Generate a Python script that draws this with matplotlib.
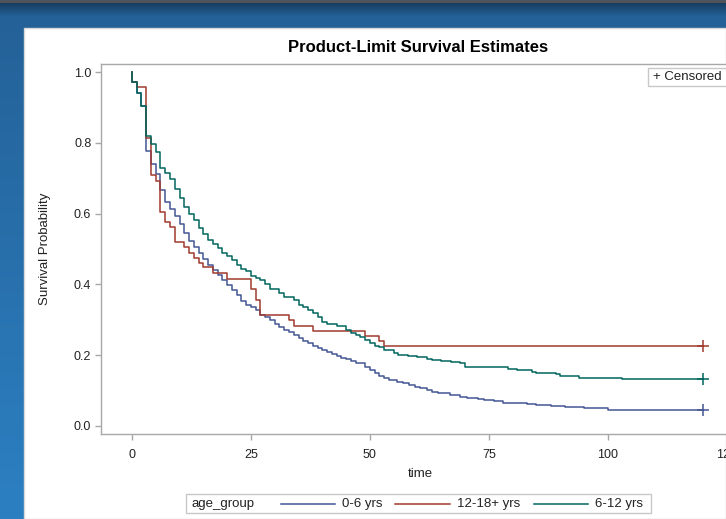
import numpy as np
import matplotlib
matplotlib.use('Agg')
import matplotlib.pyplot as plt
from matplotlib.lines import Line2D
from matplotlib.patches import Rectangle

plt.rcParams['font.family'] = ['Liberation Sans', 'DejaVu Sans']

# ---------------- data ----------------
group_labels = ['0-6 yrs', '12-18+ yrs', '6-12 yrs']
legend_title = 'age_group'
colors = ['#445694', '#A23A2E', '#01665E']

# event times and survival after each step
t_06 = [0, 1, 2, 3, 4, 5, 6, 7, 8, 9, 10, 11, 12, 13, 14, 15, 16, 17, 18, 19,
        20, 21, 22, 23, 24, 25, 26, 27, 28, 29, 30, 31, 32, 33, 34, 35, 36, 37,
        38, 39, 40, 41, 42, 43, 44, 45, 46, 47, 49, 50, 51, 52, 53, 54, 55.6,
        57, 58.3, 59.5, 60.5, 62, 63, 64.4, 66.8, 69, 70.3, 72.8, 74, 76, 78,
        78.7, 83, 85, 88, 91, 95, 100, 106]
s_06 = [0.971, 0.940, 0.905, 0.777, 0.740, 0.711, 0.667, 0.634, 0.612, 0.593,
        0.570, 0.544, 0.523, 0.505, 0.488, 0.471, 0.455, 0.441, 0.427, 0.412,
        0.398, 0.384, 0.370, 0.354, 0.343, 0.335, 0.328, 0.314, 0.307, 0.299,
        0.288, 0.279, 0.271, 0.266, 0.257, 0.248, 0.240, 0.234, 0.227, 0.221,
        0.215, 0.208, 0.203, 0.198, 0.191, 0.188, 0.184, 0.179, 0.168, 0.158,
        0.151, 0.141, 0.135, 0.130, 0.125, 0.121, 0.116, 0.111, 0.106, 0.102,
        0.097, 0.092, 0.088, 0.083, 0.080, 0.076, 0.073, 0.070, 0.066, 0.064,
        0.061, 0.058, 0.056, 0.053, 0.050, 0.046, 0.044]

t_1218 = [0, 1, 3, 4, 5, 6, 7, 8, 9, 11, 12, 13, 14, 15, 17, 20, 25, 26, 27,
          33, 34, 38, 49, 52, 53]
s_1218 = [0.971, 0.957, 0.813, 0.709, 0.693, 0.605, 0.575, 0.563, 0.519,
          0.505, 0.488, 0.474, 0.460, 0.448, 0.431, 0.416, 0.386, 0.357, 0.314,
          0.299, 0.282, 0.269, 0.255, 0.240, 0.225]

t_612 = [0, 1, 2, 3, 4, 5, 6, 7, 8, 9, 10, 11, 12, 13, 14, 15, 16, 17, 18, 19,
         20, 21, 22, 23, 24, 25, 26, 27, 28, 29, 31, 32, 34, 35, 36, 37, 38, 39,
         40, 41, 43, 45, 46, 47, 48, 49, 50, 51, 52, 53, 55, 56, 58, 60, 62,
         63, 65, 67, 69, 70, 79, 81, 84, 85, 89, 90, 91, 94, 103]
s_612 = [0.971, 0.940, 0.905, 0.819, 0.796, 0.773, 0.730, 0.714, 0.698, 0.669,
         0.645, 0.620, 0.599, 0.581, 0.559, 0.543, 0.526, 0.513, 0.502, 0.490,
         0.481, 0.469, 0.455, 0.444, 0.438, 0.425, 0.418, 0.412, 0.400, 0.386,
         0.375, 0.365, 0.356, 0.342, 0.337, 0.328, 0.318, 0.309, 0.295, 0.288,
         0.282, 0.271, 0.264, 0.257, 0.251, 0.243, 0.234, 0.226, 0.222, 0.215,
         0.207, 0.201, 0.198, 0.194, 0.189, 0.186, 0.184, 0.182, 0.177, 0.168,
         0.161, 0.158, 0.153, 0.149, 0.146, 0.142, 0.140, 0.137, 0.134]

censor_time = 120
x_ticks = [0, 25, 50, 75, 100, 125]
y_ticks = [0.0, 0.2, 0.4, 0.6, 0.8, 1.0]

series = [(t_06, s_06), (t_1218, s_1218), (t_612, s_612)]

# ---------------- figure ----------------
W, H = 726, 519
fig = plt.figure(figsize=(W / 100, H / 100), dpi=100)

# background: screenshot blue with dark top band
bg = fig.add_axes([0, 0, 1, 1], zorder=-10)
bg.set_axis_off()
img = np.zeros((H, W, 3))
top = np.array([36, 96, 150]) / 255
bot = np.array([44, 128, 194]) / 255
f = np.linspace(0, 1, H)[:, None]
img[:] = (top * (1 - f) + bot * f)[:, None, :]
img[0:3] = np.array([80, 84, 90]) / 255
for r in range(3, 16):
    a = (16 - r) / 13
    img[r] = img[r] * (1 - 0.35 * a)
bg.imshow(img, extent=[0, W, H, 0], aspect='auto')
bg.set_xlim(0, W)
bg.set_ylim(H, 0)
bg.add_patch(Rectangle((24, 28), W - 24, H - 28, facecolor='white',
                       edgecolor='#d8d8d8', linewidth=1))

def fx(px):
    return px / W

def fy(py):
    return 1 - py / H

ax = fig.add_axes([fx(101), fy(434), (734 - 101) / W, (434 - 64) / H])
ax.set_facecolor('white')

for (tt, ss), c, lab in zip(series, colors, group_labels):
    xs = [0.0] + list(tt) + [censor_time]
    ys = [1.0] + list(ss) + [ss[-1]]
    ax.step(xs, ys, where='post', color=c, linewidth=1.1, label=lab)
    ax.plot([censor_time], [ss[-1]], marker='+', markersize=9,
            markeredgewidth=1.1, color=c, linestyle='none')

ax.set_xlim(-6.5, 126.5)
ax.set_ylim(-0.0226, 1.0226)
ax.set_xticks(x_ticks)
ax.set_yticks(y_ticks)
ax.set_yticklabels([f'{v:.1f}' for v in y_ticks])
for s in ax.spines.values():
    s.set_color('#a8a8a8')
    s.set_linewidth(1.0)
ax.tick_params(axis='both', length=4, width=1, color='#a8a8a8',
               labelsize=9, labelcolor='#222222', pad=3)
ax.tick_params(axis='x', pad=7)

fig.text(fx(418), fy(48), 'Product-Limit Survival Estimates', ha='center',
         va='center', fontsize=12, fontweight='bold', color='black')
fig.text(fx(420), fy(474), 'time', ha='center', va='center', fontsize=9.5,
         color='#222222')
fig.text(fx(45), fy(249), 'Survival Probability', ha='center', va='center',
         rotation=90, fontsize=9.5, color='#222222')

# censored legend (top right)
fig.add_artist(Rectangle((fx(648), fy(86)), fx(W + 20) - fx(648), fy(68) - fy(86),
                         transform=fig.transFigure, facecolor='white',
                         edgecolor='#c8c8c8', linewidth=1))
fig.text(fx(653), fy(77), '+ Censored', ha='left', va='center', fontsize=9.5,
         color='#222222')

# bottom legend
fig.add_artist(Rectangle((fx(186), fy(513)), fx(651) - fx(186), fy(494) - fy(513),
                         transform=fig.transFigure, facecolor='white',
                         edgecolor='#c8c8c8', linewidth=1))
fig.text(fx(191), fy(504), legend_title, ha='left', va='center', fontsize=9.5,
         color='#222222')
line_x = [(281, 335), (395, 450), (534, 588)]
for (x0, x1), c, lab in zip(line_x, colors, group_labels):
    fig.add_artist(Line2D([fx(x0), fx(x1)], [fy(504), fy(504)],
                          transform=fig.transFigure, color=c, linewidth=1.1))
    fig.text(fx(x1 + 7), fy(504), lab, ha='left', va='center', fontsize=9.5,
             color='#222222')

fig.savefig('out.png', dpi=100)
